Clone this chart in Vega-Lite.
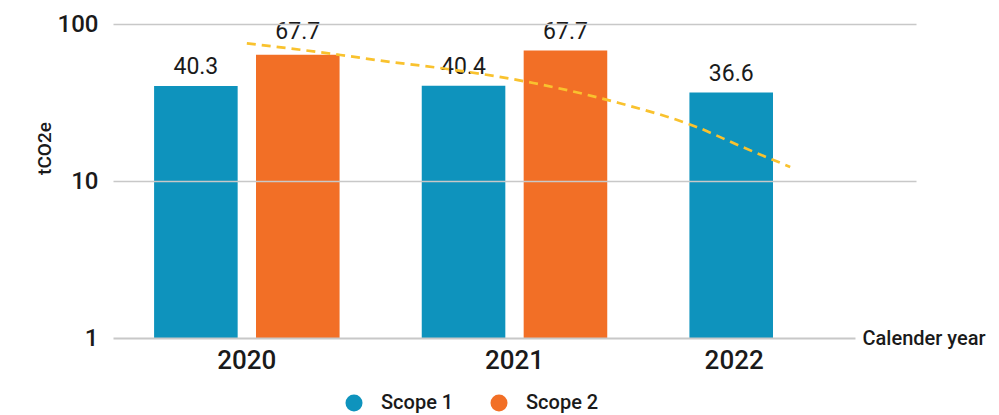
{
  "$schema": "https://vega.github.io/schema/vega-lite/v6.json",
  "width": 803,
  "height": 314,
  "autosize": "none",
  "padding": {"left": 113, "top": 24, "right": 83, "bottom": 77},
  "config": {"font": "Roboto", "view": {"stroke": null}},
  "datasets": {
    "bars": [
      {"year": "2020", "series": "Scope 1", "value": 40.3, "label": 40.3},
      {"year": "2020", "series": "Scope 2", "value": 63.6, "label": 67.7},
      {"year": "2021", "series": "Scope 1", "value": 40.4, "label": 40.4},
      {"year": "2021", "series": "Scope 2", "value": 67.7, "label": 67.7},
      {"year": "2022", "series": "Scope 1", "value": 36.6, "label": 36.6}
    ],
    "trend": [
      {"t": 2020.0, "v": 75.3},
      {"t": 2020.35, "v": 63.5},
      {"t": 2020.5, "v": 58.4},
      {"t": 2020.72, "v": 52.5},
      {"t": 2021.07, "v": 42.1},
      {"t": 2021.39, "v": 31.4},
      {"t": 2021.68, "v": 22.1},
      {"t": 2021.85, "v": 16.5},
      {"t": 2022.03, "v": 12.3}
    ]
  },
  "layer": [
    {
      "data": {"name": "bars"},
      "mark": {"type": "bar"},
      "encoding": {
        "x": {
          "field": "year", "type": "nominal",
          "scale": {"paddingInner": 0.307, "paddingOuter": 0.1535},
          "axis": {
            "title": "Calender year", "domain": false, "ticks": false, "labelAngle": 0,
            "labelFontSize": 26, "labelFontWeight": 500, "labelColor": "#1a1a1a", "labelPadding": 9,
            "labelOffset": {"condition": {"test": "datum.value === '2022'", "value": -48}, "value": 0},
            "titleFontSize": 20, "titleFontWeight": 500, "titleColor": "#1a1a1a",
            "titleX": 749, "titleY": 0, "titleAlign": "left", "titleBaseline": "middle"
          }
        },
        "xOffset": {"field": "series", "type": "nominal", "scale": {"paddingInner": 0.18, "paddingOuter": 0}},
        "y": {
          "field": "value", "type": "quantitative", "stack": null,
          "scale": {"type": "log", "domain": [1, 100], "nice": false},
          "axis": {
            "title": "tCO2e", "values": [1, 10, 100], "format": "d", "domain": false, "ticks": false, "grid": true,
            "gridColor": "#c8c8c8",
            "gridWidth": {"condition": {"test": "datum.value === 1", "value": 2}, "value": 1.3},
            "gridDash": {"condition": {"test": "datum.value === 1", "value": [742, 200]}, "value": []},
            "labelFontSize": 24, "labelFontWeight": 500, "labelPadding": 15, "labelColor": "#1a1a1a",
            "titleFontSize": 19, "titleFontWeight": 500, "titleColor": "#1a1a1a",
            "titleX": -69, "titleY": 124, "titleBaseline": "middle", "titleAngle": -90, "titleAlign": "center",
            "zindex": 1
          }
        },
        "y2": {"datum": 1},
        "color": {
          "field": "series", "type": "nominal",
          "scale": {"domain": ["Scope 1", "Scope 2"], "range": ["#0E93BD", "#F26F26"]},
          "legend": {
            "title": null, "orient": "none", "legendX": 231, "legendY": 369, "direction": "horizontal",
            "symbolType": "circle", "symbolSize": 290, "symbolStrokeWidth": 0,
            "labelFontSize": 20, "labelFontWeight": 500, "labelColor": "#1a1a1a",
            "labelOffset": 17, "columnPadding": 35
          }
        }
      }
    },
    {
      "data": {"name": "bars"},
      "mark": {"type": "text", "fontSize": 23, "baseline": "alphabetic", "dy": -12, "color": "#1a1a1a"},
      "encoding": {
        "x": {"field": "year", "type": "nominal", "scale": {"paddingInner": 0.307, "paddingOuter": 0.1535}, "axis": null},
        "xOffset": {"field": "series", "type": "nominal"},
        "y": {"field": "label", "type": "quantitative"},
        "text": {"field": "label", "type": "quantitative", "format": ".1f"}
      }
    },
    {
      "data": {"name": "trend"},
      "mark": {"type": "line", "color": "#F9C22E", "strokeWidth": 2.7, "strokeDash": [9, 6], "interpolate": "monotone"},
      "encoding": {
        "x": {"field": "t", "type": "quantitative", "scale": {"domain": [2019.5, 2022.5], "nice": false, "zero": false}, "axis": null},
        "y": {"field": "v", "type": "quantitative"}
      }
    }
  ],
  "resolve": {"scale": {"x": "independent"}}
}
